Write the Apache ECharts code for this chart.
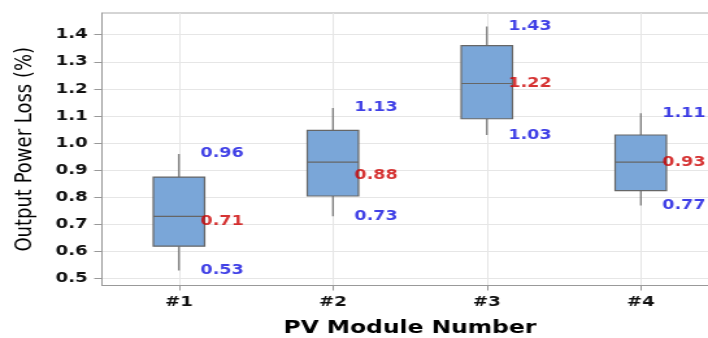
<!DOCTYPE html>
<html>
<head>
<meta charset="utf-8">
<script src="https://cdn.jsdelivr.net/npm/echarts@6/dist/echarts.min.js"></script>
<style>
html,body{margin:0;padding:0;background:#fff;overflow:hidden;}
#c{width:545px;height:338px;transform:scaleX(1.2991);transform-origin:0 0;}
</style>
</head>
<body>
<div id="c"></div>
<script>
// Data
const categories = ['#1', '#2', '#3', '#4'];
const minVals    = [0.53, 0.73, 1.03, 0.77];
const q1Vals     = [0.62, 0.805, 1.09, 0.825];
const medianVals = [0.73, 0.93, 1.22, 0.93];
const q3Vals     = [0.875, 1.047, 1.36, 1.03];
const maxVals    = [0.96, 1.13, 1.43, 1.11];
const upperLabels  = [0.96, 1.13, 1.43, 1.11];
const lowerLabels  = [0.53, 0.73, 1.03, 0.77];
const medianLabels = [0.71, 0.88, 1.22, 0.93];
const yTicks = [0.5, 0.6, 0.7, 0.8, 0.9, 1.0, 1.1, 1.2, 1.3, 1.4];

const boxData = categories.map((c, i) => [i, minVals[i], q1Vals[i], medianVals[i], q3Vals[i], maxVals[i]]);
const blueData = [];
categories.forEach((c, i) => { blueData.push([c, upperLabels[i]]); blueData.push([c, lowerLabels[i]]); });
const redData = categories.map((c, i) => [c, medianLabels[i]]);

const FONT = 'DejaVu Sans';
const lineColor = '#666';

function renderBox(params, api) {
  const idx = api.value(0);
  const pMin = api.coord([idx, api.value(1)]);
  const pQ1 = api.coord([idx, api.value(2)]);
  const pMed = api.coord([idx, api.value(3)]);
  const pQ3 = api.coord([idx, api.value(4)]);
  const pMax = api.coord([idx, api.value(5)]);
  const bw = api.size([1, 0])[0] * 0.333;
  const x = pMed[0];
  const st = { stroke: lineColor, lineWidth: 1.1, fill: null };
  return {
    type: 'group',
    children: [
      { type: 'line', shape: { x1: x, y1: pMax[1], x2: x, y2: pQ3[1] }, style: st },
      { type: 'line', shape: { x1: x, y1: pQ1[1], x2: x, y2: pMin[1] }, style: st },
      { type: 'rect', shape: { x: x - bw / 2, y: pQ3[1], width: bw, height: pQ1[1] - pQ3[1] },
        style: { fill: '#7aa6d8', stroke: lineColor, lineWidth: 1.2 } },
      { type: 'line', shape: { x1: x - bw / 2, y1: pMed[1], x2: x + bw / 2, y2: pMed[1] }, style: st }
    ]
  };
}

const labelStyle = (color) => ({
  show: true,
  position: 'right',
  distance: 16,
  formatter: (p) => p.value[1].toFixed(2),
  color: color,
  fontFamily: FONT,
  fontWeight: 'bold',
  fontSize: 13.5
});

const chart = echarts.init(document.getElementById('c'), null, { renderer: 'canvas' });
chart.setOption({
  animation: false,
  backgroundColor: '#fff',
  grid: { left: 78.5, top: 13, width: 474, height: 272.5, containLabel: false, outerBoundsMode: 'none',
          show: true, borderColor: '#aaa', borderWidth: 1, backgroundColor: 'transparent' },
  xAxis: {
    type: 'category',
    data: categories,
    boundaryGap: true,
    axisLine: { show: true, lineStyle: { color: '#999', width: 1 } },
    axisTick: { show: true, alignWithLabel: true, length: 5, lineStyle: { color: '#999' } },
    splitLine: { show: true, alignWithLabel: true, lineStyle: { color: '#e6e6e6', width: 1 } },
    axisLabel: { color: '#111', fontFamily: FONT, fontWeight: 'bold', fontSize: 14, margin: 10 },
    name: 'PV Module Number',
    nameLocation: 'middle',
    nameGap: 34,
    nameTextStyle: { color: '#000', fontFamily: FONT, fontWeight: 'bold', fontSize: 18 }
  },
  yAxis: {
    type: 'value',
    min: 0.475,
    max: 1.48,
    axisLine: { show: true, lineStyle: { color: '#999', width: 1 } },
    axisTick: { show: true, length: 6, customValues: yTicks, lineStyle: { color: '#999' } },
    axisLabel: { customValues: yTicks, formatter: (v) => v.toFixed(1), color: '#111', fontFamily: FONT, fontWeight: 'bold', fontSize: 14, margin: 11 },
    splitLine: { show: true, lineStyle: { color: '#e6e6e6', width: 1 } },
    name: 'Output Power Loss (%)',
    nameLocation: 'middle',
    nameGap: 50,
    nameTextStyle: { color: '#000', fontFamily: FONT, fontSize: 18 }
  },
  series: [
    { type: 'custom', renderItem: renderBox, data: boxData, encode: { x: 0, y: [1, 2, 3, 4, 5] }, z: 2 },
    { type: 'scatter', data: blueData, symbolSize: 1, itemStyle: { color: 'transparent' }, label: labelStyle('#1010e0'), z: 3, silent: true },
    { type: 'scatter', data: redData, symbolSize: 1, itemStyle: { color: 'transparent' }, label: labelStyle('#cc0000'), z: 3, silent: true }
  ]
});
</script>
</body>
</html>
